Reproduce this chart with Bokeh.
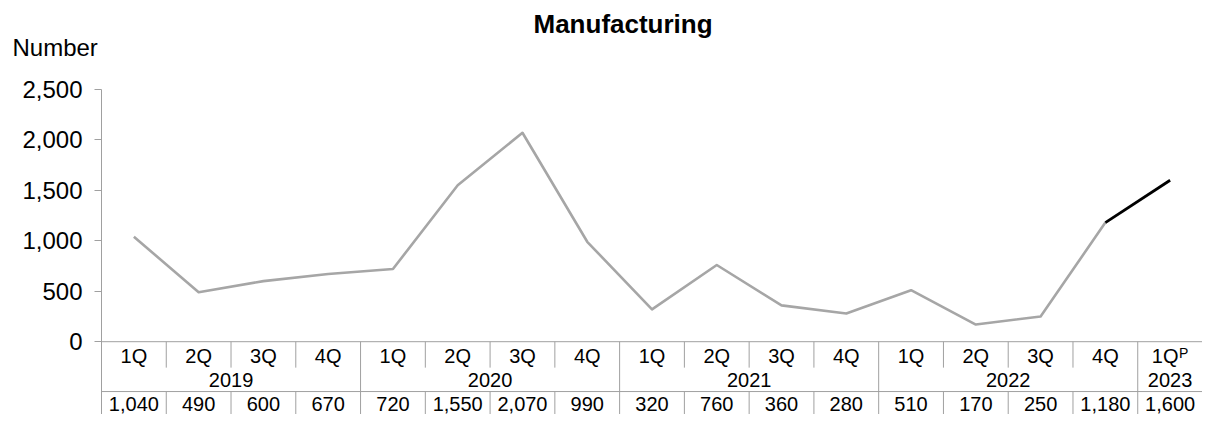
from bokeh.plotting import figure
from bokeh.models import (Range1d, LinearAxis, FixedTicker, NumeralTickFormatter,
                          Title, ColumnDataSource)
from bokeh.core.properties import value
from bokeh.embed import file_html
from bokeh.resources import INLINE

# ---------------- data ----------------
quarters = ["1Q", "2Q", "3Q", "4Q"] * 4 + ["1Q"]
quarter_marks = [""] * 16 + ["P"]
years = ["2019", "2020", "2021", "2022", "2023"]
year_sizes = [4, 4, 4, 4, 1]
values = [1040, 490, 600, 670, 720, 1550, 2070, 990, 320, 760, 360, 280,
          510, 170, 250, 1180, 1600]
y_ticks = [0, 500, 1000, 1500, 2000, 2500]
title_text = "Manufacturing"
y_label = "Number"

# ---------------- layout ----------------
FONT = "Liberation Sans"
W, H = 1202, 414
LEFT = 101         # frame left (px)
TOP = 45           # frame top (px)
ZERO_PX = 341      # pixel row of y = 0
TOP_PX = 88        # pixel row of y = 2500
Y_MAX = 2500
CELL = (W - LEFT) / 17.0
ROW1_BOTTOM = 367
ROW2_BOTTOM = 391
ROW_TEXT = [355, 379, 403]
GRID_COLOR = "#A0A0A0"
LINE_COLOR = "#A6A6A6"

n = len(values)
idx = list(range(n))
frame_w = W - LEFT
k = (ZERO_PX - TOP_PX) / Y_MAX           # px per unit
y_start = -(H - ZERO_PX) / k
y_end = Y_MAX + (TOP_PX - TOP) / k
x_start = -0.5
x_end = x_start + frame_w / CELL

p = figure(width=W, height=H, output_backend="svg", toolbar_location=None,
           x_range=Range1d(x_start, x_end), y_range=Range1d(y_start, y_end),
           x_axis_location=None, y_axis_location=None,
           min_border_left=LEFT, min_border_right=0, min_border_top=TOP,
           min_border_bottom=0, background_fill_color="white",
           border_fill_color="white")
p.outline_line_color = None
p.grid.grid_line_color = None
p.extra_y_ranges = {"py": Range1d(H, TOP)}

yaxis = LinearAxis(ticker=FixedTicker(ticks=y_ticks),
                   formatter=NumeralTickFormatter(format="0,0"),
                   bounds=(y_start, Y_MAX))
yaxis.axis_line_color = GRID_COLOR
yaxis.major_tick_line_color = GRID_COLOR
yaxis.major_tick_out = 7
yaxis.major_tick_in = 0
yaxis.minor_tick_line_color = None
yaxis.major_label_standoff = 12
yaxis.major_label_text_font = FONT
yaxis.major_label_text_font_size = "24px"
yaxis.major_label_text_color = "#000000"
p.add_layout(yaxis, "left")

# titles (first added sits nearest the frame)
p.add_layout(Title(text=y_label, align="left", offset=12 - LEFT, standoff=-28,
                   text_font=FONT, text_font_size="24px",
                   text_font_style="normal", text_color="#000000"), "above")
p.add_layout(Title(text=title_text, align="left", offset=432,
                   standoff=13, text_font=FONT, text_font_size="26px",
                   text_font_style="bold", text_color="#000000"), "above")

# ---------------- series ----------------
p.line(idx[:n - 1], values[:n - 1], line_color=LINE_COLOR, line_width=2.6,
       line_join="round")
p.line(idx[n - 2:], values[n - 2:], line_color="#000000", line_width=2.8,
       line_join="round")

# ---------------- data table under the axis ----------------
p.segment(x0=[x_start, x_start], x1=[n - 0.5, n - 0.5],
          y0=[ZERO_PX, ROW2_BOTTOM], y1=[ZERO_PX, ROW2_BOTTOM],
          y_range_name="py", line_color=GRID_COLOR, line_width=1)

year_bounds = []
acc = 0
for s in year_sizes:
    acc += s
    year_bounds.append(acc - 0.5)
sx, sy0, sy1 = [], [], []
for i in range(1, n + 1):
    b = i - 0.5
    if b in year_bounds:
        sx.append(b); sy0.append(ZERO_PX); sy1.append(H)
    else:
        sx.append(b); sy0.append(ZERO_PX); sy1.append(ROW1_BOTTOM)
        sx.append(b); sy0.append(ROW2_BOTTOM); sy1.append(H)
p.segment(x0=sx, x1=sx, y0=sy0, y1=sy1, y_range_name="py",
          line_color=GRID_COLOR, line_width=1)

# quarter row
qoff = [-5 if m else 0 for m in quarter_marks]
qsrc = ColumnDataSource(dict(x=idx, y=[ROW_TEXT[0]] * n, t=quarters, o=qoff))
p.text(x="x", y="y", text="t", source=qsrc, y_range_name="py", x_offset="o",
       text_align="center", text_baseline="middle",
       text_font=value(FONT), text_font_size="20px", text_color="#000000")
msrc = ColumnDataSource(dict(x=idx, y=[ROW_TEXT[0] - 3] * n, t=quarter_marks))
p.text(x="x", y="y", text="t", source=msrc, y_range_name="py",
       x_offset=9, text_align="left", text_baseline="middle",
       text_font=value(FONT), text_font_size="14px", text_color="#000000")

# year row
ycent = []
acc = 0
for s in year_sizes:
    ycent.append(acc + (s - 1) / 2)
    acc += s
ysrc = ColumnDataSource(dict(x=ycent, y=[ROW_TEXT[1]] * len(years), t=years))
p.text(x="x", y="y", text="t", source=ysrc, y_range_name="py",
       text_align="center", text_baseline="middle",
       text_font=value(FONT), text_font_size="20px", text_color="#000000")

# value row
vsrc = ColumnDataSource(dict(x=idx, y=[ROW_TEXT[2]] * n,
                             t=[f"{v:,}" for v in values]))
p.text(x="x", y="y", text="t", source=vsrc, y_range_name="py",
       text_align="center", text_baseline="middle",
       text_font=value(FONT), text_font_size="20px", text_color="#000000")

open("out.html", "w").write(file_html(p, INLINE))
